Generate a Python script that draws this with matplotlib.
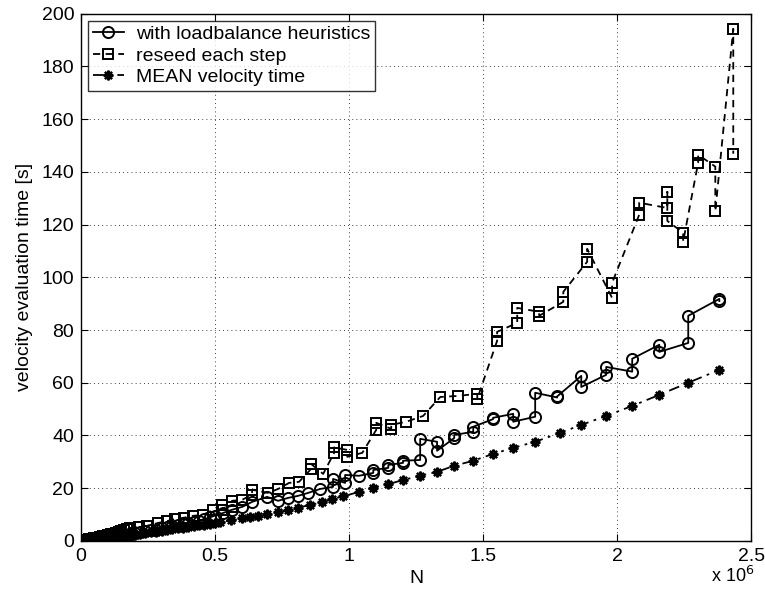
import numpy as np
import matplotlib
matplotlib.use("Agg")
import matplotlib.pyplot as plt
from matplotlib.ticker import FuncFormatter

plt.rcParams['font.family'] = ['Liberation Sans', 'DejaVu Sans']

# N in millions
lb_x = [0.0, 0.01, 0.02, 0.03, 0.04, 0.05, 0.06, 0.07, 0.08, 0.09, 0.10, 0.11, 0.12,
        0.13, 0.14, 0.15, 0.16, 0.17, 0.18, 0.19, 0.20,
        0.22, 0.24, 0.26, 0.28, 0.30, 0.32, 0.34, 0.36, 0.38, 0.40, 0.42, 0.44, 0.46,
        0.48, 0.50, 0.53, 0.563, 0.601, 0.638, 0.694, 0.735, 0.772, 0.81, 0.847, 0.892,
        0.94, 0.94, 0.985, 0.985, 1.037, 1.09, 1.09, 1.146, 1.146, 1.201, 1.201,
        1.265, 1.265, 1.328, 1.328, 1.392, 1.392, 1.463, 1.463, 1.537, 1.537,
        1.612, 1.612, 1.694, 1.694, 1.776, 1.776, 1.866, 1.866, 1.959, 1.959,
        2.056, 2.056, 2.157, 2.157, 2.265, 2.265, 2.381, 2.381]
lb_y = [0.0, 0.1, 0.3, 0.4, 0.5, 0.6, 0.8, 0.9, 1.1, 1.2, 1.4, 1.5, 1.7,
        1.8, 2.0, 2.1, 2.3, 2.4, 2.6, 2.7, 2.9,
        3.3, 3.6, 4.0, 4.3, 4.7, 5.1, 5.5, 5.9, 6.3, 6.7, 7.2, 7.7, 8.3,
        8.9, 9.6, 10.6, 11.8, 12.9, 14.8, 16.7, 15.2, 16.3, 17.1, 18.2, 19.7,
        20.5, 23.5, 22.0, 25.0, 24.7, 25.8, 26.9, 27.7, 28.8, 29.6, 30.4,
        30.7, 38.7, 37.6, 34.2, 39.0, 40.2, 41.4, 43.3, 46.2, 46.7,
        48.2, 45.2, 47.1, 56.2, 54.4, 54.8, 62.6, 58.4, 63.0, 66.0,
        64.2, 69.1, 74.4, 71.7, 75.1, 85.4, 91.8, 91.0]

rs_x = [0.0, 0.01, 0.02, 0.03, 0.04, 0.05, 0.06, 0.07, 0.08, 0.09, 0.10, 0.11, 0.12,
        0.13, 0.14, 0.15, 0.16, 0.17, 0.183,
        0.215, 0.246, 0.287, 0.32, 0.351, 0.385, 0.418, 0.455, 0.493, 0.526, 0.526,
        0.563, 0.563, 0.601, 0.638, 0.638, 0.698, 0.735, 0.776, 0.813, 0.858, 0.858,
        0.903, 0.944, 0.944, 0.993, 0.993, 1.049, 1.101, 1.101, 1.157, 1.157, 1.213,
        1.276, 1.340, 1.407, 1.478, 1.478, 1.552, 1.552, 1.627, 1.627, 1.709, 1.709,
        1.799, 1.799, 1.888, 1.888, 1.981, 1.981, 2.082, 2.082, 2.187, 2.187, 2.187,
        2.246, 2.246, 2.302, 2.302, 2.366, 2.366, 2.433, 2.433]
rs_y = [0.0, 0.2, 0.4, 0.6, 0.8, 1.0, 1.2, 1.5, 1.7, 2.0, 2.2, 2.5, 2.8,
        3.1, 3.4, 3.7, 4.0, 4.4, 4.9,
        5.2, 5.7, 6.8, 7.5, 8.3, 8.8, 9.5, 9.9, 11.8, 11.8, 13.7,
        12.9, 15.2, 15.6, 17.5, 19.4, 18.2, 19.7, 22.0, 22.4, 27.3, 29.2,
        25.4, 33.4, 35.5, 34.5, 31.9, 33.4, 42.1, 44.8, 42.5, 44.0, 45.2,
        47.4, 54.6, 55.0, 55.8, 53.9, 75.9, 79.3, 82.7, 88.4, 86.9, 85.4,
        90.7, 94.5, 105.9, 110.8, 92.2, 97.9, 123.7, 128.3, 126.3, 132.4, 121.4,
        116.9, 113.5, 143.5, 146.5, 142.0, 125.0, 194.3, 146.9]

mean_x = [0.0, 0.01, 0.02, 0.03, 0.04, 0.05, 0.06, 0.07, 0.08, 0.09, 0.10, 0.11,
          0.12, 0.13, 0.14, 0.15, 0.16, 0.17,
          0.18, 0.20, 0.22, 0.24, 0.26, 0.28, 0.30, 0.32, 0.34, 0.36, 0.38, 0.40,
          0.42, 0.44, 0.46, 0.48, 0.50, 0.52, 0.56, 0.60, 0.63, 0.66, 0.694, 0.735,
          0.772, 0.81, 0.855, 0.90, 0.937, 0.978, 1.037, 1.09, 1.146, 1.201, 1.265,
          1.328, 1.392, 1.463, 1.537, 1.612, 1.694, 1.787, 1.866, 1.959, 2.056,
          2.157, 2.265, 2.381]
mean_y = [0.0, 0.1, 0.2, 0.3, 0.4, 0.5, 0.6, 0.7, 0.8, 1.0, 1.1, 1.2,
          1.3, 1.5, 1.6, 1.7, 1.8, 2.0,
          2.1, 2.4, 2.6, 2.9, 3.2, 3.5, 3.8, 4.1, 4.4, 4.7, 5.0, 5.3,
          5.6, 5.9, 6.2, 6.5, 6.8, 7.1, 7.8, 8.5, 9.1, 9.5, 10.2, 11.0,
          11.6, 12.6, 13.7, 14.6, 15.9, 16.9, 18.6, 20.2, 21.5, 23.1, 24.7,
          26.2, 28.5, 30.4, 33.0, 35.3, 37.6, 41.0, 44.0, 47.4, 51.2,
          55.4, 60.0, 64.9]

fig = plt.figure(figsize=(7.65, 5.97), dpi=100)
ax = fig.add_axes([0.106, 0.094, 0.876, 0.883])

ax.plot(lb_x, lb_y, '-o', color='black', lw=1.3, ms=8, mfc='none', mew=1.4,
        label='with loadbalance heuristics')
ax.plot(rs_x, rs_y, '--s', color='black', lw=1.3, ms=7, mfc='none', mew=1.4,
        label='reseed each step', dashes=(4, 3))
ax.plot(mean_x, mean_y, '-.', color='black', lw=1.3, marker=(8, 2, 0), ms=7, mew=1.6,
        label='MEAN velocity time', dashes=(6, 3, 1.5, 3))

ax.set_xlim(0, 2.5)
ax.set_ylim(0, 200)
ax.set_xticks([0, 0.5, 1, 1.5, 2, 2.5])
ax.set_yticks(np.arange(0, 201, 20))
ax.xaxis.set_major_formatter(FuncFormatter(lambda v, p: '%g' % v))
ax.grid(True, color='black', linestyle=(0, (1, 4)), lw=0.6)
ax.tick_params(direction='in', top=True, right=True, labelsize=14, length=5, pad=5)
for s in ax.spines.values():
    s.set_linewidth(1.0)

ax.set_xlabel('N', fontsize=14, labelpad=4)
ax.set_ylabel('velocity evaluation time [s]', fontsize=14, labelpad=6)
ax.text(0.94, -0.066, 'x 10$^{6}$', transform=ax.transAxes, fontsize=13, va='center')

leg = ax.legend(loc='upper left', fontsize=14, frameon=True, fancybox=False,
                edgecolor='black', borderaxespad=0.35, handlelength=1.6,
                labelspacing=0.2, borderpad=0.25, handletextpad=0.6)
leg.get_frame().set_linewidth(1.0)

fig.savefig('out.png', dpi=100)
